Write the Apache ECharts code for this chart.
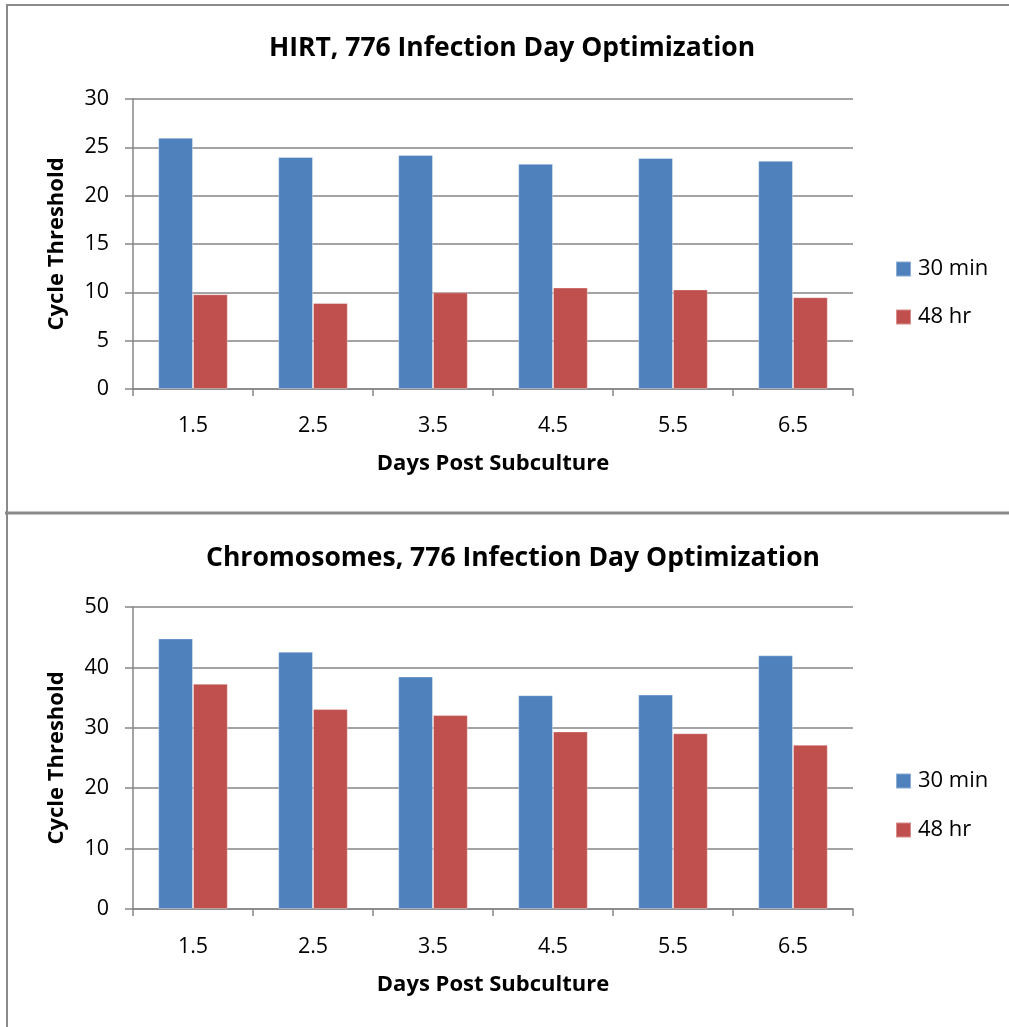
<!DOCTYPE html>
<html>
<head>
<meta charset="utf-8">
<script src="https://cdn.jsdelivr.net/npm/echarts@6/dist/echarts.min.js"></script>
<style>
html,body{margin:0;padding:0;background:#fff;}
#chart{width:1009px;height:1027px;}
</style>
</head>
<body>
<div id="chart"></div>
<script>
const categories = ['1.5', '2.5', '3.5', '4.5', '5.5', '6.5'];
const seriesNames = ['30 min', '48 hr'];
const hirt30min = [26.0, 24.0, 24.2, 23.3, 23.9, 23.6];
const hirt48hr = [9.8, 8.9, 10.0, 10.5, 10.3, 9.5];
const chrom30min = [44.8, 42.6, 38.5, 35.4, 35.5, 42.0];
const chrom48hr = [37.3, 33.1, 32.1, 29.4, 29.1, 27.2];
const titles = ['HIRT, 776 Infection Day Optimization', 'Chromosomes, 776 Infection Day Optimization'];
const xName = 'Days Post Subculture';
const yName = 'Cycle Threshold';

const FONT = '"Open Sans", "Noto Sans", sans-serif';
const GRAY = '#868686';
const BLUE = '#4F81BD';
const RED = '#C0504D';

function xAxis(idx, margin, nameGap) {
  return {
    type: 'category', gridIndex: idx, data: categories,
    name: xName, nameLocation: 'middle', nameGap: nameGap,
    nameTextStyle: {fontFamily: FONT, fontWeight: 'bold', fontSize: 22, color: '#000'},
    axisLine: {lineStyle: {color: GRAY, width: 1.5}},
    axisTick: {show: true, length: 7, lineStyle: {color: GRAY, width: 1.5}, alignWithLabel: false},
    axisLabel: {fontFamily: FONT, fontSize: 21.5, color: '#000', margin: margin},
    splitLine: {show: false}
  };
}
function yAxis(idx, max, interval) {
  return {
    type: 'value', gridIndex: idx, min: 0, max: max, interval: interval,
    name: yName, nameLocation: 'middle', nameGap: 65, nameRotate: 90,
    nameTextStyle: {fontFamily: FONT, fontWeight: 'bold', fontSize: 22, color: '#000'},
    axisLine: {show: true, lineStyle: {color: GRAY, width: 1.5}},
    axisTick: {show: true, length: 8, lineStyle: {color: GRAY, width: 1.5}},
    axisLabel: {fontFamily: FONT, fontSize: 21.5, color: '#000', margin: 24},
    splitLine: {show: true, lineStyle: {color: GRAY, width: 1.5}}
  };
}
function bar(name, data, idx, color) {
  return {
    name: name, type: 'bar', data: data, xAxisIndex: idx, yAxisIndex: idx,
    barGap: '0%', barCategoryGap: '42%',
    itemStyle: {color: color, borderColor: 'rgba(255,255,255,0.35)', borderWidth: 1},
    emphasis: {disabled: true}, animation: false
  };
}

const chart = echarts.init(document.getElementById('chart'), null, {renderer: 'canvas'});
chart.setOption({
  backgroundColor: '#fff',
  animation: false,
  title: [
    {text: titles[0], left: 507, top: 30, textAlign: 'center',
     textStyle: {fontFamily: FONT, fontWeight: 'bold', fontSize: 26.5, color: '#000'}},
    {text: titles[1], left: 508, top: 540, textAlign: 'center',
     textStyle: {fontFamily: FONT, fontWeight: 'bold', fontSize: 26.5, color: '#000'}}
  ],
  legend: [
    {data: seriesNames, orient: 'vertical', left: 890, top: 253, itemWidth: 15, itemHeight: 15,
     itemGap: 26, icon: 'rect', selectedMode: false,
     textStyle: {fontFamily: FONT, fontSize: 22, color: '#000', padding: [0, 0, 0, 2]}},
    {data: seriesNames, orient: 'vertical', left: 890, top: 765, itemWidth: 15, itemHeight: 15,
     itemGap: 27, icon: 'rect', selectedMode: false,
     textStyle: {fontFamily: FONT, fontSize: 22, color: '#000', padding: [0, 0, 0, 2]}}
  ],
  grid: [
    {left: 133, top: 99, width: 720, height: 290, containLabel: false},
    {left: 133, top: 607, width: 720, height: 302, containLabel: false}
  ],
  xAxis: [xAxis(0, 26, 64), xAxis(1, 27, 65)],
  yAxis: [yAxis(0, 30, 5), yAxis(1, 50, 10)],
  series: [
    bar(seriesNames[0], hirt30min, 0, BLUE),
    bar(seriesNames[1], hirt48hr, 0, RED),
    bar(seriesNames[0], chrom30min, 1, BLUE),
    bar(seriesNames[1], chrom48hr, 1, RED)
  ],
  graphic: [
    {type: 'line', shape: {x1: 7, y1: 5, x2: 1009, y2: 5}, style: {stroke: '#8a8a8a', lineWidth: 2}, silent: true},
    {type: 'line', shape: {x1: 7, y1: 4, x2: 7, y2: 1027}, style: {stroke: '#8a8a8a', lineWidth: 2}, silent: true},
    {type: 'line', shape: {x1: 5, y1: 513, x2: 1009, y2: 513}, style: {stroke: '#8a8a8a', lineWidth: 3}, silent: true}
  ]
});
</script>
</body>
</html>
